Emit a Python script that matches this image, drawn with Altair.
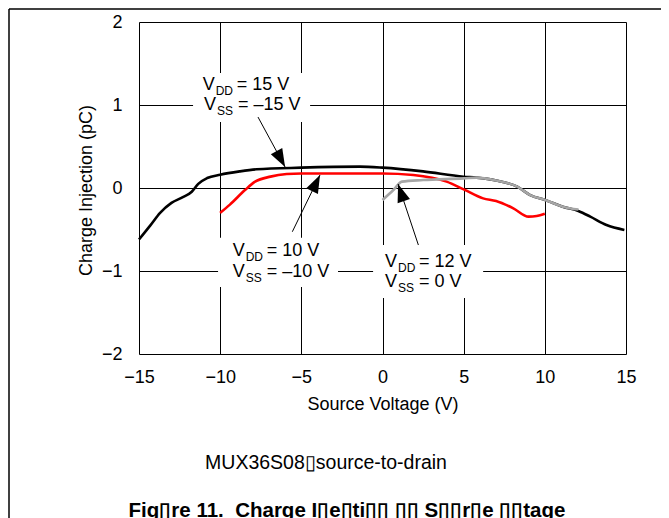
import altair as alt
import pandas as pd

# ---- data ----
black_v = [-15, -14.3, -13.7, -13, -12.3, -11.75, -11.35, -10.8, -10, -8.8, -7.75, -5, -1.4, 0,
           2.5, 5, 5.8, 7, 8.3, 9.1, 10.1, 11.1, 12.1, 12.8, 13.8, 14.9]
black_q = [-0.62, -0.45, -0.3, -0.18, -0.11, -0.045, 0.05, 0.12, 0.16, 0.2, 0.225, 0.245, 0.257, 0.245,
           0.2, 0.136, 0.125, 0.09, 0.016, -0.085, -0.15, -0.225, -0.28, -0.345, -0.446, -0.505]

red_v = [-10, -9.4, -8.47, -7.85, -6.9, -5.9, -5, 0, 1.9, 3.95, 5, 6.2, 7.0, 8.06, 9.0, 9.5, 10]
red_q = [-0.3, -0.2, -0.025, 0.076, 0.137, 0.168, 0.175, 0.175, 0.157, 0.077, -0.016, -0.125,
         -0.157, -0.245, -0.345, -0.337, -0.31]

gray_v = [0, 0.67, 1.2, 2.5, 5, 5.8, 7, 8.3, 9.1, 10.1, 11.1, 12.07]
gray_q = [-0.145, -0.024, 0.077, 0.096, 0.116, 0.125, 0.09, 0.016, -0.085, -0.15, -0.225, -0.26]

series_names = ["15/-15", "10/-10", "12/0"]
series_colors = ["#000000", "#ff0000", "#a6a6a6"]

x_ticks = [-15, -10, -5, 0, 5, 10, 15]
y_ticks = [-2, -1, 0, 1, 2]

# annotations (data coordinates)
ann_x = [-11.08, -11.0, -9.23, -9.23, 0.157, 0.157]
ann_y = [1.18, 0.94, -0.815, -1.069, -0.955, -1.189]
ann_sub = ["DD", "SS", "DD", "SS", "DD", "SS"]
ann_rest = ["= 15 V", "= \u201315 V", "= 10 V", "= \u201310 V", "= 12 V", "= 0 V"]

box_x = [-11.67, -10.13, -0.58]
box_x2 = [-4.46, -2.74, 6.2]
box_y = [0.795, -1.193, -1.325]
box_y2 = [1.386, -0.6, -0.687]

arrow_x = [-7.67, -5.555, 2.21]
arrow_y = [0.855, -0.527, -0.687]
arrow_x2 = [-6.0, -3.85, 0.96]
arrow_y2 = [0.253, 0.157, 0.048]
arrow_angle = [151.6, 26, 341.6]

caption = "MUX36S08\u25afsource-to-drain"
fig_title = "Fig\u25afre 11.\u00a0\u00a0Charge I\u25afe\u25afti\u25af\u25af \u25af\u25af S\u25af\u25afr\u25afe \u25af\u25aftage"

# ---- tables ----
lines = pd.concat([
    pd.DataFrame({"v": black_v, "q": black_q, "s": series_names[0], "o": 0}),
    pd.DataFrame({"v": red_v, "q": red_q, "s": series_names[1], "o": 1}),
    pd.DataFrame({"v": gray_v, "q": gray_q, "s": series_names[2], "o": 2}),
], ignore_index=True)
ann = pd.DataFrame({"x": ann_x, "y": ann_y, "sub": ann_sub, "rest": ann_rest, "V": "V"})
boxes = pd.DataFrame({"x": box_x, "x2": box_x2, "y": box_y, "y2": box_y2})
arrows = pd.DataFrame({"x": arrow_x, "y": arrow_y, "x2": arrow_x2, "y2": arrow_y2, "a": arrow_angle})

FONT = "Liberation Sans"
xs = alt.Scale(domain=[-15, 15], nice=False, zero=False)
ys = alt.Scale(domain=[-2, 2], nice=False, zero=False)

base_x = alt.X("v:Q", scale=xs, axis=alt.Axis(
    values=x_ticks, format="d", grid=True, gridColor="#000", gridWidth=1, domain=False, ticks=False,
    labelFontSize=18, labelColor="#000", labelPadding=14, labelFlush=False, labelOverlap=False,
    title="Source Voltage (V)", titleFontSize=18, titleFontWeight="normal", titleColor="#000",
    titleY=50, titleBaseline="middle"))
base_y = alt.Y("q:Q", scale=ys, axis=alt.Axis(
    values=y_ticks, format="d", grid=True, gridColor="#000", gridWidth=1, domain=False, ticks=False,
    labelFontSize=18, labelColor="#000", labelPadding=17,
    title="Charge Injection (pC)", titleFontSize=18, titleFontWeight="normal", titleColor="#000",
    titleX=-53, titleY=168, titleBaseline="middle", titleAlign="center", titleAngle=-90))

line_layer = alt.Chart(lines).mark_line(strokeWidth=2.6, interpolate="monotone").encode(
    x=base_x, y=base_y,
    color=alt.Color("s:N", scale=alt.Scale(domain=series_names, range=series_colors), legend=None),
    order="o:Q", detail="s:N")

box_layer = alt.Chart(boxes).mark_rect(color="white").encode(
    x=alt.X("x:Q", scale=xs), x2="x2", y=alt.Y("y:Q", scale=ys), y2="y2")

ann_v = alt.Chart(ann).mark_text(align="left", baseline="alphabetic", fontSize=18, font=FONT, color="#000").encode(
    x=alt.X("x:Q", scale=xs), y=alt.Y("y:Q", scale=ys), text="V:N")
ann_s = alt.Chart(ann).mark_text(align="left", baseline="alphabetic", fontSize=12, font=FONT, color="#000",
                                 dx=13, dy=5).encode(
    x=alt.X("x:Q", scale=xs), y=alt.Y("y:Q", scale=ys), text="sub:N")
ann_r = alt.Chart(ann).mark_text(align="left", baseline="alphabetic", fontSize=18, font=FONT, color="#000",
                                 dx=34).encode(
    x=alt.X("x:Q", scale=xs), y=alt.Y("y:Q", scale=ys), text="rest:N")

arrow_line = alt.Chart(arrows).mark_rule(color="#000", strokeWidth=1).encode(
    x=alt.X("x:Q", scale=xs), y=alt.Y("y:Q", scale=ys), x2="x2", y2="y2")
arrow_head = alt.Chart(arrows).mark_point(shape="M0,0 L-0.36,1 L0.36,1 Z", filled=True, size=1300,
                                          color="#000", opacity=1, strokeWidth=0).encode(
    x=alt.X("x2:Q", scale=xs), y=alt.Y("y2:Q", scale=ys), angle=alt.Angle("a:Q", scale=None))

cap_layer = alt.Chart(pd.DataFrame({"t": [caption]})).mark_text(
    align="center", baseline="middle", fontSize=19.5, font=FONT, color="#000").encode(
    x=alt.value(187), y=alt.value(441), text="t:N")
title_layer = alt.Chart(pd.DataFrame({"t": [fig_title]})).mark_text(
    align="center", baseline="middle", fontSize=20.5, font=FONT, fontWeight="bold", color="#000").encode(
    x=alt.value(208), y=alt.value(489), text="t:N")

frame_top = alt.Chart(pd.DataFrame({"k": [0]})).mark_rule(color="#000", strokeWidth=1.5).encode(
    x=alt.value(-130), x2=alt.value(540), y=alt.value(-13))
frame_left = alt.Chart(pd.DataFrame({"k": [0]})).mark_rule(color="#000", strokeWidth=1.5).encode(
    x=alt.value(-130), y=alt.value(-13), y2=alt.value(500))

chart = alt.layer(
    box_layer, line_layer, ann_v, ann_s, ann_r, arrow_line, arrow_head,
    cap_layer, title_layer, frame_top, frame_left
).properties(
    width=487, height=332,
    autosize=alt.AutoSizeParams(type="none"),
    padding={"left": 131, "top": 14, "right": 35, "bottom": 164},
).configure_view(stroke="#000", strokeWidth=2.5).configure(font=FONT)

chart.save("out.html", embed_options={"renderer": "svg", "actions": False})
